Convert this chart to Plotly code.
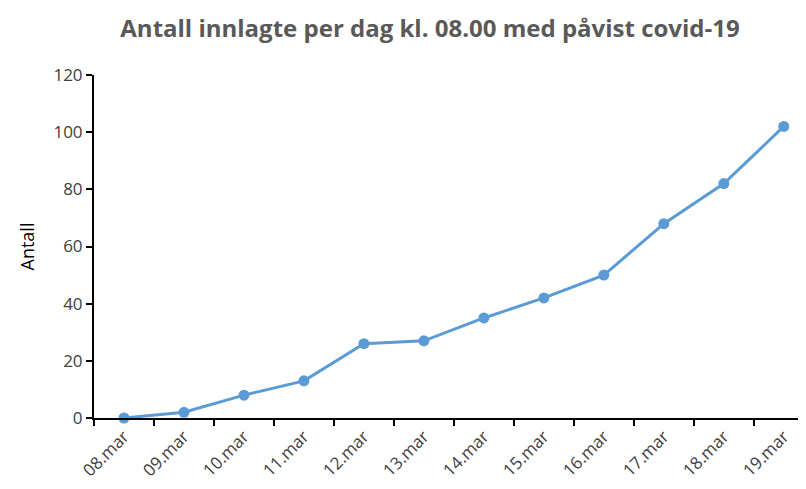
import plotly.graph_objects as go

# data
dates = ["08.mar", "09.mar", "10.mar", "11.mar", "12.mar", "13.mar",
         "14.mar", "15.mar", "16.mar", "17.mar", "18.mar", "19.mar"]
antall = [0, 2, 8, 13, 26, 27, 35, 42, 50, 68, 82, 102]
y_ticks = [0, 20, 40, 60, 80, 100, 120]

LINE_COLOR = "#5B9BD5"
TEXT_COLOR = "#404040"
FONT = "Open Sans"

# the page body has an 8px margin, so the figure is shrunk and shifted to fit
W, H = 798, 481

fig = go.Figure(go.Scatter(
    x=dates,
    y=antall,
    mode="lines+markers",
    line=dict(color=LINE_COLOR, width=3),
    marker=dict(color=LINE_COLOR, size=11),
    cliponaxis=False,
))

fig.update_layout(
    width=W,
    height=H,
    margin=dict(l=86, r=0, t=67, b=71),
    paper_bgcolor="white",
    plot_bgcolor="white",
    showlegend=False,
    font=dict(family=FONT, color=TEXT_COLOR),
    title=dict(
        text="<b>Antall innlagte per dag kl. 08.00 med påvist covid-19</b>",
        x=422 / W,
        xanchor="center",
        y=1 - 21 / H,
        yanchor="middle",
        font=dict(family=FONT, size=24, color="#595959"),
    ),
    xaxis=dict(
        type="category",
        range=[-0.5, 11.37],
        automargin=False,
        tickson="boundaries",
        ticks="outside",
        ticklen=6,
        tickwidth=2,
        tickcolor="black",
        showline=True,
        linecolor="black",
        linewidth=2,
        showgrid=False,
        tickangle=-45,
        tickfont=dict(size=17, color=TEXT_COLOR),
        fixedrange=True,
    ),
    yaxis=dict(
        range=[0, 120],
        automargin=False,
        tickvals=y_ticks,
        ticks="outside",
        ticklen=6,
        tickwidth=2,
        tickcolor="black",
        showline=True,
        linecolor="black",
        linewidth=2,
        showgrid=False,
        zeroline=False,
        tickfont=dict(size=17, color=TEXT_COLOR),
        title=dict(text="Antall", font=dict(size=18, color="black"), standoff=14),
    ),
)

fig.write_html("out.html")
